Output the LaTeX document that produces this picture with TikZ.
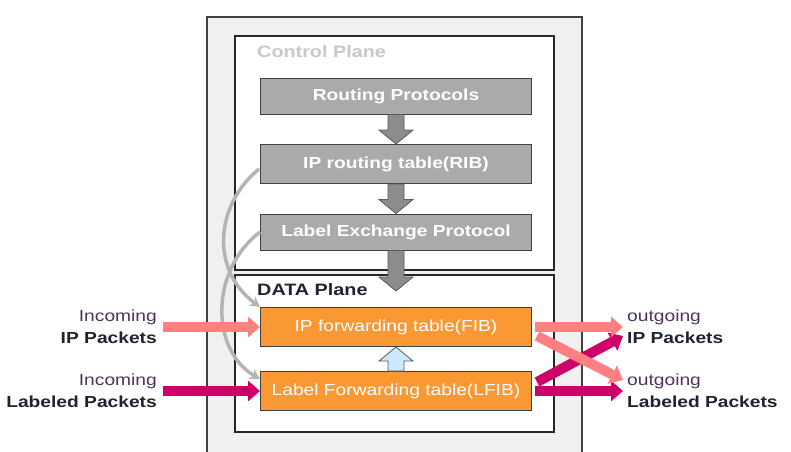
\documentclass[tikz,border=0pt]{standalone}
\usepackage{fontspec}
\setmainfont{Liberation Sans}[FakeStretch=1.2]
\usetikzlibrary{arrows.meta, calc, positioning}

\definecolor{boxgray}{RGB}{170,170,170}
\definecolor{arrgray}{RGB}{140,140,140}
\definecolor{fwdorange}{RGB}{250,152,52}
\definecolor{ippink}{RGB}{255,128,128}
\definecolor{lblmagenta}{RGB}{204,0,102}
\definecolor{linkgray}{RGB}{180,180,180}
\definecolor{upblue}{RGB}{204,232,250}
\definecolor{inktxt}{RGB}{35,32,50}
\definecolor{softtxt}{RGB}{75,50,95}
\definecolor{paneltxt}{RGB}{200,200,200}
\definecolor{panelfill}{RGB}{240,240,240}

% fat arrow from #1 to #2, filled with #3, #4 = 1 points down, -1 points up
\newcommand{\blockarr}[4]{%
  \draw[fill=#3, draw=black!65, line width=0.8pt]
    let \p1=(#1), \p2=(#2) in
    ({\x1-8pt},\y1) -- ({\x1+8pt},\y1) -- ({\x1+8pt},{\y2+(#4)*14pt})
    -- ({\x1+17pt},{\y2+(#4)*14pt}) -- (\x1,\y2)
    -- ({\x1-17pt},{\y2+(#4)*14pt}) -- ({\x1-8pt},{\y2+(#4)*14pt}) -- cycle;}

\begin{document}
\begin{tikzpicture}[x=1pt, y=-1pt, font=\fontsize{16}{19}\selectfont]
			\tikzstyle{ctrlbox}=[draw=black!75, fill=boxgray, text=white, line width=1pt, minimum width=271pt, minimum height=36pt, inner sep=0pt, font=\fontsize{16}{19}\selectfont\bfseries]
			\tikzstyle{fwdbox}=[ctrlbox, fill=fwdorange, minimum height=39pt, font=\fontsize{16}{19}\selectfont]
			\tikzstyle{paneltitle}=[anchor=west, inner sep=0pt, font=\fontsize{16.5}{19}\selectfont\bfseries]
			\tikzstyle{pktlabel}=[inner sep=0pt, text=inktxt, font=\fontsize{16}{22}\selectfont\bfseries]
			\tikzstyle{pktarrow}=[line width=10pt, -{Triangle[width=20pt,length=12pt]}]
			\tikzstyle{linkarrow}=[linkgray, line width=3.5pt, -{Stealth[length=10pt,width=11pt]}]
			
			\useasboundingbox (0,0) rectangle (791,451);
			\clip (0,0) rectangle (791,451);
			
			% Panels
			\draw[draw=black!75, fill=panelfill, line width=1.2pt] (207,17) rectangle (582,470);
			\draw[draw=black!85, fill=white, line width=1.2pt] (235,36) rectangle (554,270);
			\draw[draw=black!85, fill=white, line width=1.2pt] (235,275) rectangle (554,432);
			\node[paneltitle, text=paneltxt] (ctrltitle) at (257,52) {Control Plane};
			\node[paneltitle, text=inktxt] (datatitle) at (257,290) {DATA Plane};
			
			% Control plane boxes
			\node[ctrlbox] (rp) at (396,96) {Routing Protocols};
			\node[ctrlbox, minimum height=39pt] (rib) at (396,164) {IP routing table(RIB)};
			\node[ctrlbox] (lep) at (396,232) {Label Exchange Protocol};
			
			% Data plane boxes
			\node[fwdbox] (fib) at (396,327) {IP forwarding table(FIB)};
			\node[fwdbox] (lfib) at (396,391) {Label Forwarding table(LFIB)};
			
			% Fat arrows
			\coordinate (datatip) at (396,291);
			\blockarr{rp.south}{rib.north}{arrgray}{1}
			\blockarr{rib.south}{lep.north}{arrgray}{1}
			\blockarr{lep.south}{datatip}{arrgray}{1}
			\blockarr{lfib.north}{fib.south}{upblue}{-1}
			
			% Tables feeding the data plane
			\draw[linkarrow] ($(rib.west)+(-1,5)$) .. controls (215,205) and (210,270) .. (fib.north west);
			\draw[linkarrow] (lep.west) .. controls (210,270) and (210,350) .. ($(lfib.west)+(0,-12)$);
			
			% Incoming packets
			\node[pktlabel, anchor=east, align=right] (inip) at (157,327) {\textcolor{softtxt}{\mdseries Incoming}\\IP Packets};
			\node[pktlabel, anchor=east, align=right] (inlbl) at (157,391) {\textcolor{softtxt}{\mdseries Incoming}\\Labeled Packets};
			\coordinate (inipsrc) at (163,327);
			\coordinate (inlblsrc) at (163,391);
			\draw[pktarrow, ippink] (inipsrc) -- (fib.west);
			\draw[pktarrow, lblmagenta] (inlblsrc) -- (lfib.west);
			
			% Outgoing packets
			\coordinate (outip) at (623,327);
			\coordinate (outlbl) at (623,391);
			\node[pktlabel, anchor=west, align=left] (outiptxt) at (627,327) {\textcolor{softtxt}{\mdseries outgoing}\\IP Packets};
			\node[pktlabel, anchor=west, align=left] (outlbltxt) at (627,391) {\textcolor{softtxt}{\mdseries outgoing}\\Labeled Packets};
			\draw[pktarrow, lblmagenta] ($(lfib.east)+(3,0)$) -- (outlbl);
			\draw[pktarrow, lblmagenta] ($(lfib.east)+(5,-9)$) -- ($(outip)+(0,9)$);
			\draw[pktarrow, ippink] ($(fib.east)+(3,0)$) -- (outip);
			\draw[pktarrow, ippink] ($(fib.east)+(5,9)$) -- ($(outlbl)+(0,-11)$);
		\end{tikzpicture}
\end{document}
